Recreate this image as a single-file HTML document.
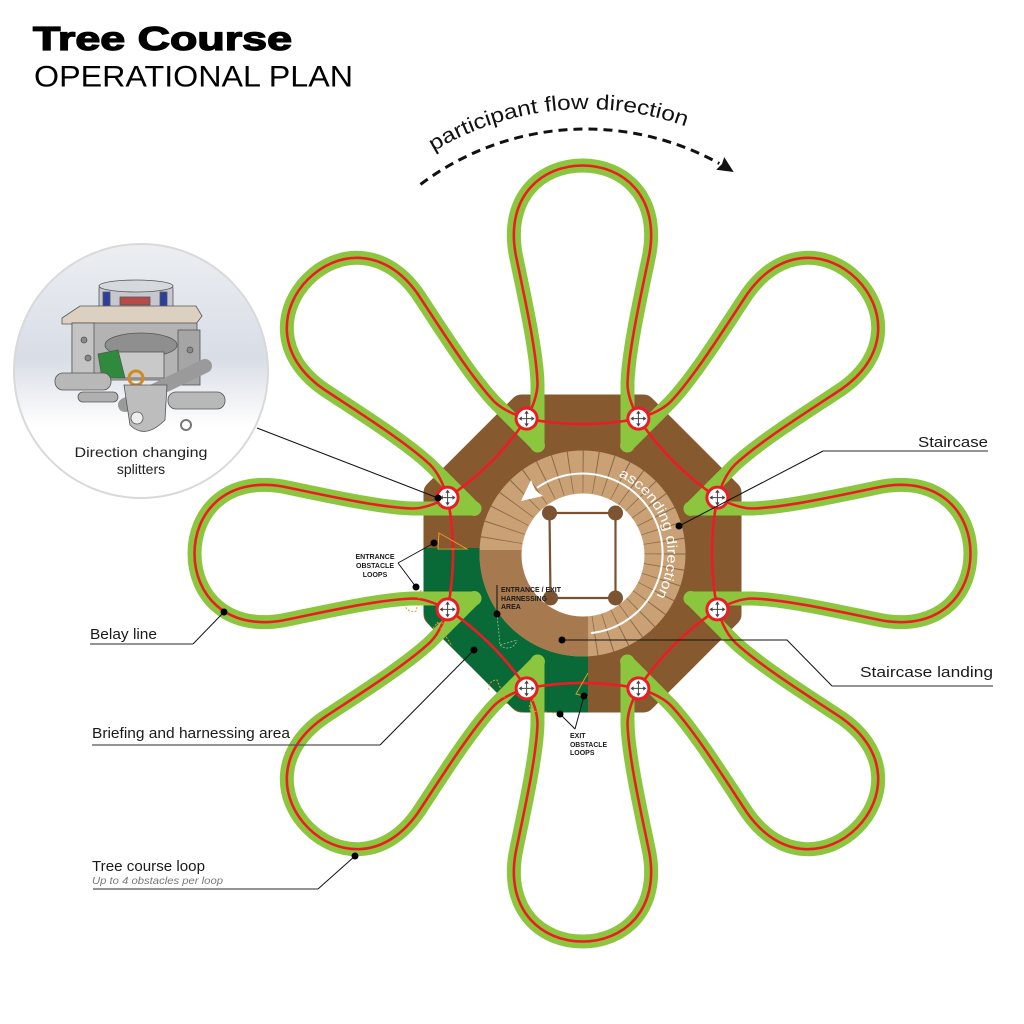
<!DOCTYPE html>
<html><head><meta charset="utf-8">
<style>
html,body{margin:0;padding:0;background:#fff;}
svg{display:block;}
text{font-family:"Liberation Sans",sans-serif;}
</style></head><body>
<svg width="1024" height="1024" viewBox="0 0 1024 1024" xmlns="http://www.w3.org/2000/svg">
<defs>
 <linearGradient id="insetbg" x1="0" y1="0" x2="0" y2="1">
   <stop offset="0" stop-color="#eceef2"/>
   <stop offset="0.45" stop-color="#d8dde6"/>
   <stop offset="0.72" stop-color="#ffffff"/>
   <stop offset="1" stop-color="#ffffff"/>
 </linearGradient>
 <clipPath id="insetclip"><circle cx="141" cy="371" r="126"/></clipPath>
 <path id="pg" d="M -45 -108 L -45 -170 C -46 -205 -60 -265 -67 -300 C -77 -358 -40 -388 0 -388 C 40 -388 77 -358 67 -300 C 60 -265 46 -205 45 -170 L 45 -108"/>
 <path id="pr" d="M -55.9 -134.9 C -49 -148 -45 -160 -45 -170 C -46 -205 -60 -265 -67 -300 C -77 -358 -40 -388 0 -388 C 40 -388 77 -358 67 -300 C 60 -265 46 -205 45 -170 C 45 -160 49 -148 55.9 -134.9"/>
 <path id="pe" d="M -55.9 -134.9 Q 0 -124 55.9 -134.9"/>
 <g id="node">
   <circle r="10.5" fill="#fff" stroke="#ed1c24" stroke-width="3"/>
   <path d="M -6 0 H 6 M 0 -6 V 6" stroke="#444" stroke-width="1"/>
   <path d="M 0 -8 L -2.2 -4.8 L 2.2 -4.8 Z M 0 8 L -2.2 4.8 L 2.2 4.8 Z M -8 0 L -4.8 -2.2 L -4.8 2.2 Z M 8 0 L 4.8 -2.2 L 4.8 2.2 Z" fill="#444"/>
 </g>
 <path id="flowpath" d="M 416.8 162.4 A 295 295 0 0 1 755.2 162.4"/>
 <path id="ascpath" d="M 597.3 469.8 A 85 85 0 0 1 625 627.1"/>
</defs>

<!-- Title -->
<text x="33" y="50" font-size="33" font-weight="bold" fill="#000" stroke="#000" stroke-width="1.3" textLength="259" lengthAdjust="spacingAndGlyphs">Tree Course</text>
<text x="34" y="86.5" font-size="30" fill="#000" textLength="319" lengthAdjust="spacingAndGlyphs">OPERATIONAL PLAN</text>

<!-- participant flow direction -->
<text font-size="21" fill="#111"><textPath href="#flowpath" startOffset="20" textLength="262" lengthAdjust="spacingAndGlyphs">participant flow direction</textPath></text>
<path d="M 420.5 184.4 A 275 275 0 0 1 719.3 163.5" fill="none" stroke="#111" stroke-width="3" stroke-dasharray="9 6"/>
<path d="M 733.7 172 L 724.2 157.1 L 722 164 L 716.2 169.7 Z" fill="#111"/>

<!-- Inset circle -->
<circle cx="141" cy="371" r="127" fill="url(#insetbg)" stroke="#d9d9d9" stroke-width="2"/>
<g clip-path="url(#insetclip)" stroke="#555" stroke-width="0.8">
 <rect x="99" y="285" width="74" height="26" rx="4" fill="#c5c8ce"/>
 <ellipse cx="136" cy="286" rx="37" ry="6" fill="#d5d8dd"/>
 <rect x="103" y="292" width="7" height="14" fill="#2d3f9c"/>
 <rect x="160" y="292" width="7" height="14" fill="#2d3f9c"/>
 <rect x="120" y="297" width="30" height="8" fill="#b94a4a"/>
 <path d="M62 318 L80 306 L196 306 L202 316 L196 324 L62 324 Z" fill="#dcd0c0"/>
 <rect x="72" y="323" width="125" height="57" fill="#b3b3b3"/>
 <rect x="72" y="323" width="22" height="60" fill="#c4c4c4"/>
 <rect x="178" y="330" width="22" height="55" fill="#a5a5a5"/>
 <circle cx="84" cy="340" r="3" fill="#888"/>
 <circle cx="88" cy="358" r="3" fill="#888"/>
 <circle cx="190" cy="350" r="3" fill="#888"/>
 <ellipse cx="141" cy="345" rx="36" ry="12" fill="#8f8f8f"/>
 <rect x="118" y="352" width="46" height="26" fill="#c9c9c9"/>
 <path d="M98 354 L118 350 L125 378 L102 378 Z" fill="#2f8a3d"/>
 <rect x="55" y="373" width="56" height="17" rx="8" fill="#b8b8b8"/>
 <rect x="168" y="392" width="57" height="17" rx="8" fill="#b8b8b8"/>
 <path d="M125 405 L205 366" stroke="#9a9a9a" stroke-width="14" stroke-linecap="round"/>
 <circle cx="136" cy="378" r="7" fill="none" stroke="#d08a1e" stroke-width="3"/>
 <path d="M124 385 L167 385 L165 420 Q145 440 130 425 Z" fill="#bdbdbd"/>
 <circle cx="137" cy="418" r="6" fill="#eee"/>
 <circle cx="186" cy="425" r="5" fill="none" stroke="#777" stroke-width="2"/>
 <rect x="78" y="392" width="40" height="10" rx="5" fill="#b0b0b0"/>
</g>
<text x="141" y="457" font-size="14" fill="#222" text-anchor="middle" textLength="133" lengthAdjust="spacingAndGlyphs">Direction changing</text>
<text x="141" y="474" font-size="14" fill="#222" text-anchor="middle">splitters</text>

<!-- Octagon -->
<polygon points="521.6,406.5 643.4,406.5 729.5,492.6 729.5,614.4 643.4,700.5 521.6,700.5 435.5,614.4 435.5,492.6" fill="#87592f" stroke="#87592f" stroke-width="24" stroke-linejoin="round"/>
<!-- Green briefing area -->
<path d="M 423.5 548 L 588 548 L 588 712.5 L 528 712.5 Q 516.6 712.5 508.5 704.4 L 431.6 627.5 Q 423.5 619.4 423.5 608 Z" fill="#0a6a37"/>

<!-- Staircase ring -->
<circle cx="582.5" cy="553.5" r="103" fill="#c9a175"/>
<circle cx="582.5" cy="553.5" r="82" fill="none" stroke="#8b6a4a" stroke-width="42" stroke-dasharray="0.9 11.98"/>
<path d="M 588 550 L 479.56 550 A 103 103 0 0 0 588 656.35 Z" fill="#a67a4e"/>
<circle cx="583" cy="555" r="61.5" fill="#fff"/>
<!-- square + posts -->
<path d="M 549.5 513 L 615.5 513 L 615.5 598 L 550.5 598 Z" fill="none" stroke="#7a5230" stroke-width="2.2"/>
<g fill="#7b5431">
 <circle cx="549.5" cy="513" r="7.5"/>
 <circle cx="615.5" cy="513" r="7.5"/>
 <circle cx="550.5" cy="598" r="7.5"/>
 <circle cx="615.5" cy="598" r="7.5"/>
</g>
<!-- ascending arrow -->
<path d="M 590.9 633.1 A 80 80 0 1 0 537 487.8" fill="none" stroke="#fff" stroke-width="2"/>
<path d="M 521 501 L 543 496 L 535.5 490.5 L 531 480 Z" fill="#fff"/>
<text font-size="14" fill="#fff"><textPath href="#ascpath" startOffset="22" textLength="141" lengthAdjust="spacingAndGlyphs">ascending direction</textPath></text>

<!-- Petals -->
<g transform="translate(582.5 553.5)">
 <g fill="none" stroke="#8cc63f" stroke-width="14" stroke-linecap="round" stroke-linejoin="round">
  <use href="#pg"/>
  <use href="#pg" transform="rotate(45)"/>
  <use href="#pg" transform="rotate(90)"/>
  <use href="#pg" transform="rotate(135)"/>
  <use href="#pg" transform="rotate(180)"/>
  <use href="#pg" transform="rotate(225)"/>
  <use href="#pg" transform="rotate(270)"/>
  <use href="#pg" transform="rotate(315)"/>
 </g>
 <g fill="none" stroke="#ed1c24" stroke-width="2.6">
  <use href="#pr"/>
  <use href="#pr" transform="rotate(45)"/>
  <use href="#pr" transform="rotate(90)"/>
  <use href="#pr" transform="rotate(135)"/>
  <use href="#pr" transform="rotate(180)"/>
  <use href="#pr" transform="rotate(225)"/>
  <use href="#pr" transform="rotate(270)"/>
  <use href="#pr" transform="rotate(315)"/>
  <use href="#pe"/>
  <use href="#pe" transform="rotate(45)"/>
  <use href="#pe" transform="rotate(90)"/>
  <use href="#pe" transform="rotate(135)"/>
  <use href="#pe" transform="rotate(180)"/>
  <use href="#pe" transform="rotate(225)"/>
  <use href="#pe" transform="rotate(270)"/>
  <use href="#pe" transform="rotate(315)"/>
 </g>
</g>

<!-- Obstacle loop markers -->
<g fill="none" stroke="#e39b2d" stroke-width="1">
 <polygon points="439,533 467,549 438,549"/>
 <path d="M 421 590 L 416 611 A 8 8 0 0 1 405 605" stroke-dasharray="2 1.5"/>
 <path d="M 437 622 L 452 646 M 433 632 A 8 8 0 0 1 445 624" stroke-dasharray="2 1.5"/>
 <path d="M 507 704 L 497 680 A 8 8 0 0 0 489 690" stroke-dasharray="2 1.5"/>
 <path d="M 531 711 L 556 713 M 534 700 A 7 7 0 0 0 531 711" stroke-dasharray="2 1.5"/>
 <path d="M 588 673 L 576 694 L 588 697"/>
</g>
<path d="M 497 614 L 500 645 L 517 640 M 500 645 A 10 10 0 0 0 517 640" fill="none" stroke="#9ab8a8" stroke-width="0.8" stroke-dasharray="2 1.5"/>

<!-- Nodes -->
<use href="#node" x="638.4" y="418.6"/>
<use href="#node" x="717.4" y="497.6"/>
<use href="#node" x="717.4" y="609.4"/>
<use href="#node" x="638.4" y="688.4"/>
<use href="#node" x="526.6" y="688.4"/>
<use href="#node" x="447.6" y="609.4"/>
<use href="#node" x="447.6" y="497.6"/>
<use href="#node" x="526.6" y="418.6"/>

<!-- Leader lines -->
<g fill="none" stroke="#111" stroke-width="1">
 <path d="M 257 428 L 438 498"/>
 <path d="M 823 451 L 679 526"/>
 <path d="M 832 686 L 787 640 L 562 640"/>
 <path d="M 193 644 L 224 612"/>
 <path d="M 380 745 L 474 650"/>
 <path d="M 318 889 L 355 856"/>
 <path d="M 398 563 L 434 543 M 398 563 L 416 587"/>
 <path d="M 497 585 L 497 614"/>
 <path d="M 575 729 L 560 714 M 575 729 L 584 696"/>
</g>
<g fill="none" stroke="#555" stroke-width="1.3">
 <path d="M 823 451 L 988 451"/>
 <path d="M 832 686 L 993 686"/>
 <path d="M 90 644 L 193 644"/>
 <path d="M 92 745 L 380 745"/>
 <path d="M 93 889 L 318 889"/>
</g>
<g fill="#000">
 <circle cx="438" cy="498" r="3.5"/>
 <circle cx="679" cy="526" r="3.5"/>
 <circle cx="562" cy="640" r="3.5"/>
 <circle cx="224" cy="612" r="3.5"/>
 <circle cx="474" cy="650" r="3.5"/>
 <circle cx="355" cy="856" r="3.5"/>
 <circle cx="434" cy="543" r="3.5"/>
 <circle cx="416" cy="587" r="3.5"/>
 <circle cx="497" cy="614" r="3.5"/>
 <circle cx="560" cy="714" r="3.5"/>
 <circle cx="584" cy="696" r="3.5"/>
</g>

<!-- Labels -->
<g fill="#1a1a1a" font-size="14.5">
 <text x="988" y="447" text-anchor="end" textLength="70" lengthAdjust="spacingAndGlyphs">Staircase</text>
 <text x="993" y="677" text-anchor="end" textLength="133" lengthAdjust="spacingAndGlyphs">Staircase landing</text>
 <text x="90" y="639" textLength="67" lengthAdjust="spacingAndGlyphs">Belay line</text>
 <text x="92" y="738" textLength="198" lengthAdjust="spacingAndGlyphs">Briefing and harnessing area</text>
 <text x="92" y="871" textLength="113" lengthAdjust="spacingAndGlyphs">Tree course loop</text>
</g>
<text x="92" y="884" font-size="10.5" font-style="italic" fill="#777" textLength="131" lengthAdjust="spacingAndGlyphs">Up to 4 obstacles per loop</text>

<g fill="#1a1a1a" font-size="7" font-weight="bold">
 <text x="375" y="559" text-anchor="middle" textLength="39" lengthAdjust="spacingAndGlyphs">ENTRANCE</text>
 <text x="375" y="568" text-anchor="middle" textLength="38" lengthAdjust="spacingAndGlyphs">OBSTACLE</text>
 <text x="375" y="577" text-anchor="middle">LOOPS</text>
 <text x="501" y="592" textLength="60" lengthAdjust="spacingAndGlyphs">ENTRANCE / EXIT</text>
 <text x="501" y="601" textLength="46" lengthAdjust="spacingAndGlyphs">HARNESSING</text>
 <text x="501" y="609">AREA</text>
 <text x="570" y="738">EXIT</text>
 <text x="570" y="747" textLength="37" lengthAdjust="spacingAndGlyphs">OBSTACLE</text>
 <text x="570" y="755">LOOPS</text>
</g>
</svg>
</body></html>
